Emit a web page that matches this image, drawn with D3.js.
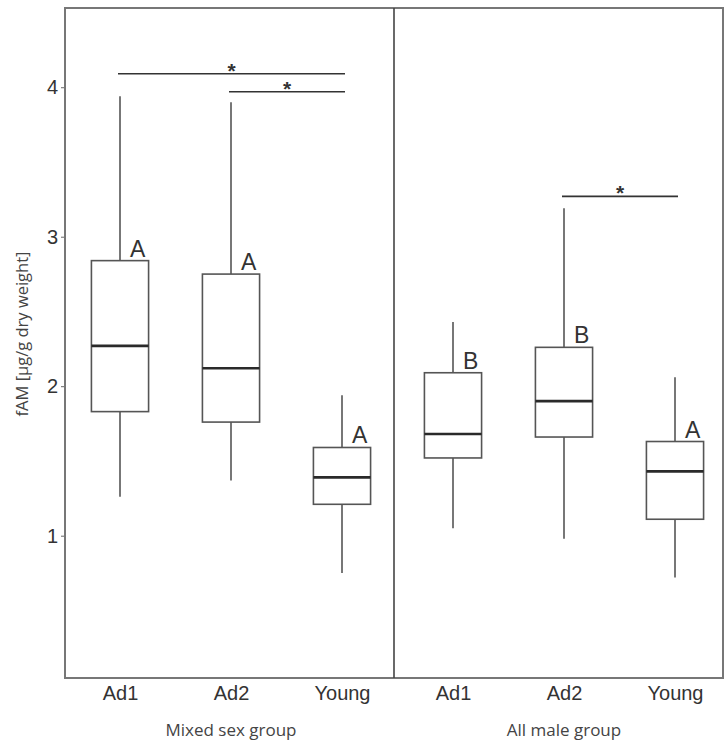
<!DOCTYPE html>
<html>
<head>
<meta charset="utf-8">
<script src="https://cdnjs.cloudflare.com/ajax/libs/d3/7.8.5/d3.min.js"></script>
<style>
  body { margin: 0; background: #fff; }
  svg { display: block; }
</style>
</head>
<body>
<div id="chart"></div>
<script>
// facet groups and age classes
var groups = ["Mixed sex group", "All male group"]
var ages = ["Ad1", "Ad2", "Young"]

// box stats (mixed sex first, then all male)
var lowWhisker  = [1.26, 1.37, 0.75, 1.05, 0.98, 0.72]
var q1          = [1.83, 1.76, 1.21, 1.52, 1.66, 1.11]
var medians     = [2.27, 2.12, 1.39, 1.68, 1.90, 1.43]
var q3          = [2.84, 2.75, 1.59, 2.09, 2.26, 1.63]
var highWhisker = [3.94, 3.90, 1.94, 2.43, 3.19, 2.06]
var letters     = ["A", "A", "A", "B", "B", "A"]

// significance brackets: box index from / to and height
var sigFrom = [0, 1, 4]
var sigTo   = [2, 2, 5]
var sigY    = [4.09, 3.97, 3.27]

var yTicks = [1, 2, 3, 4]

var W = 725, H = 744
var frame = {left: 65, top: 8, right: 723, bottom: 678, divider: 394}

var boxes = []
groups.forEach(function(g, gi){
  ages.forEach(function(a, ai){
    var i = gi * 3 + ai
    boxes.push({key: g + "|" + a, age: a, group: g, lo: lowWhisker[i], q1: q1[i],
                med: medians[i], q3: q3[i], hi: highWhisker[i], letter: letters[i]})
  })
})

var svg = d3.select("#chart").append("svg")
  .attr("width", W)
  .attr("height", H)

svg.append("rect").attr("width", W).attr("height", H).attr("fill", "#fff")

var x = d3.scalePoint()
  .domain(boxes.map(d => d.key))
  .range([64.5, 730.5])
  .padding(0.5)

var y = d3.scaleLinear()
  .domain([0.048, 4.53])
  .range([frame.bottom, frame.top])

var boxW = x.step() * 0.515

// y axis (ticks only, the frame draws the line)
var yAxis = d3.axisLeft(y).tickValues(yTicks).tickFormat(d3.format("d")).tickSize(4).tickPadding(3)
var yg = svg.append("g")
  .attr("transform", `translate(${frame.left},0)`)
  .call(yAxis)
yg.select(".domain").remove()
yg.selectAll("line").attr("stroke", "#666")
yg.selectAll("text")
  .style("font-family", "Liberation Sans, Arial, sans-serif")
  .style("font-size", "20px")
  .attr("fill", "#333")

// x axis labels, no tick marks
var xAxis = d3.axisBottom(x).tickFormat(k => k.split("|")[1]).tickSize(0).tickPadding(8)
var xg = svg.append("g")
  .attr("transform", `translate(0,${frame.bottom})`)
  .call(xAxis)
xg.select(".domain").remove()
xg.selectAll("text")
  .style("font-family", "Liberation Sans, Arial, sans-serif")
  .style("font-size", "20px")
  .attr("fill", "#333")

// facet labels under each panel
groups.forEach(function(g){
  var keys = boxes.filter(d => d.group == g).map(d => x(d.key))
  svg.append("text")
    .text(g)
    .attr("x", d3.mean(keys))
    .attr("y", 736)
    .attr("text-anchor", "middle")
    .style("font-family", "Open Sans, sans-serif")
    .style("font-size", "17px")
    .attr("fill", "#444")
})

// y title
svg.append("text")
  .text("fAM [µg/g dry weight]")
  .attr("transform", "translate(28,334) rotate(-90)")
  .attr("text-anchor", "middle")
  .style("font-family", "Open Sans, sans-serif")
  .style("font-size", "16.5px")
  .attr("fill", "#444")

// boxes
var bx = svg.append("g").attr("id", "boxes")
var b = bx.selectAll("g.box").data(boxes).enter().append("g").attr("class", "box")

b.append("line")
  .attr("x1", d => x(d.key)).attr("x2", d => x(d.key))
  .attr("y1", d => y(d.hi)).attr("y2", d => y(d.q3))
  .attr("stroke", "#555").attr("stroke-width", 1.6)
b.append("line")
  .attr("x1", d => x(d.key)).attr("x2", d => x(d.key))
  .attr("y1", d => y(d.q1)).attr("y2", d => y(d.lo))
  .attr("stroke", "#555").attr("stroke-width", 1.6)
b.append("rect")
  .attr("x", d => x(d.key) - boxW / 2)
  .attr("width", boxW)
  .attr("y", d => y(d.q3))
  .attr("height", d => y(d.q1) - y(d.q3))
  .attr("fill", "#fff")
  .attr("stroke", "#555").attr("stroke-width", 1.6)
b.append("line")
  .attr("x1", d => x(d.key) - boxW / 2).attr("x2", d => x(d.key) + boxW / 2)
  .attr("y1", d => y(d.med)).attr("y2", d => y(d.med))
  .attr("stroke", "#2a2a2a").attr("stroke-width", 2.6)
b.append("text")
  .text(d => d.letter)
  .attr("x", d => x(d.key) + 10)
  .attr("y", d => y(d.q3) - 4)
  .style("font-family", "Liberation Sans, Arial, sans-serif")
  .style("font-size", "23px")
  .attr("fill", "#333")

// significance brackets
sigFrom.forEach(function(f, i){
  var x1 = x(boxes[f].key) - 2, x2 = x(boxes[sigTo[i]].key) + 3
  svg.append("line")
    .attr("x1", x1).attr("x2", x2)
    .attr("y1", y(sigY[i])).attr("y2", y(sigY[i]))
    .attr("stroke", "#333").attr("stroke-width", 1.6)
  svg.append("text")
    .text("*")
    .attr("x", (x1 + x2) / 2)
    .attr("y", y(sigY[i]) + 4)
    .attr("text-anchor", "middle")
    .style("font-family", "Liberation Sans, Arial, sans-serif")
    .style("font-size", "21px")
    .style("font-weight", "bold")
    .attr("fill", "#333")
})

// panel frame and divider
svg.append("rect")
  .attr("x", frame.left).attr("y", frame.top)
  .attr("width", frame.right - frame.left)
  .attr("height", frame.bottom - frame.top)
  .attr("fill", "none")
  .attr("stroke", "#777").attr("stroke-width", 2)
svg.append("line")
  .attr("x1", frame.divider).attr("x2", frame.divider)
  .attr("y1", frame.top).attr("y2", frame.bottom)
  .attr("stroke", "#444").attr("stroke-width", 1.6)
</script>
</body>
</html>
